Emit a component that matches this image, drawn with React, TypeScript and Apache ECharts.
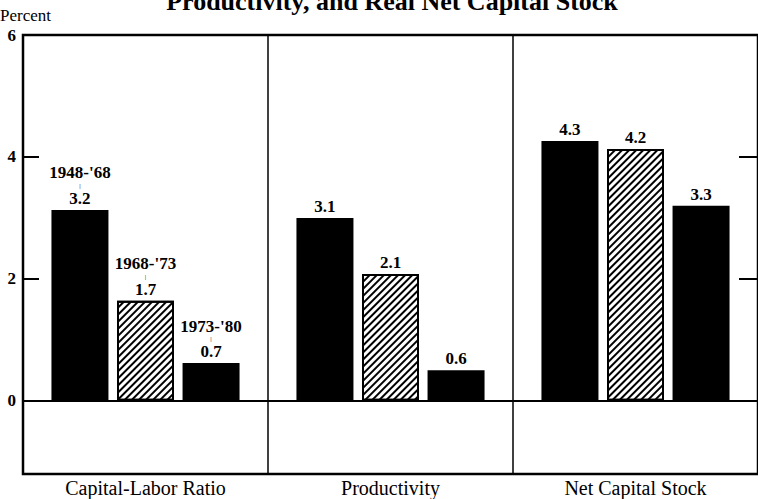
import React, { useEffect, useRef } from "react";
import * as echarts from "echarts";

const categories = ["Capital-Labor Ratio", "Productivity", "Net Capital Stock"];
const periods = ["1948-'68", "1968-'73", "1973-'80"];
// bar heights as drawn in the picture
const heights1948to68 = [3.13, 3.0, 4.26];
const heights1968to73 = [1.64, 2.08, 4.13];
const heights1973to80 = [0.62, 0.5, 3.2];
// values printed above the bars
const printed1948to68 = ["3.2", "3.1", "4.3"];
const printed1968to73 = ["1.7", "2.1", "4.2"];
const printed1973to80 = ["0.7", "0.6", "3.3"];
const yTickLabels = [0, 2, 4, 6];
const yInnerTicks = [2, 4];

const SERIF = "Liberation Serif, serif";

export default function App() {
  const ref = useRef<HTMLDivElement>(null);
  useEffect(() => {
    if (!ref.current) return;
    const chart = echarts.init(ref.current, undefined, { renderer: "svg" });
    const heights = [heights1948to68, heights1968to73, heights1973to80];
    const printed = [printed1948to68, printed1968to73, printed1973to80];
    const hatched = [false, true, false];

    const series: any[] = periods.map((period, i) => ({
      type: "bar",
      name: period,
      data: heights[i],
      barWidth: 57,
      barGap: "15%",
      itemStyle: hatched[i]
        ? {
            color: "#fff",
            borderColor: "#000",
            borderWidth: 2,
            decal: {
              symbol: "rect",
              color: "#000",
              dashArrayX: [1, 0],
              dashArrayY: [1.6, 2.6],
              rotation: -Math.PI / 4,
            },
          }
        : { color: "#000" },
      label: {
        show: true,
        position: "top",
        distance: 4,
        color: "#000",
        formatter: (p: any) =>
          p.dataIndex === 0
            ? `{p|${period}}\n{t||}\n{v|${printed[i][p.dataIndex]}}`
            : `{v|${printed[i][p.dataIndex]}}`,
        rich: {
          p: { fontFamily: SERIF, fontSize: 17, fontWeight: "bold", color: "#000", lineHeight: 16 },
          t: { fontFamily: SERIF, fontSize: 7, color: "#000", lineHeight: 10 },
          v: { fontFamily: SERIF, fontSize: 17, fontWeight: "bold", color: "#000", lineHeight: 15 },
        },
      },
      ...(i === 0
        ? {
            markLine: {
              silent: true,
              symbol: ["none", "none"],
              label: { show: false },
              lineStyle: { color: "#000", width: 2, type: "solid" },
              data: [{ yAxis: 0 }],
            },
          }
        : {}),
    }));

    chart.setOption({
      animation: false,
      backgroundColor: "#fff",
      grid: {
        left: 23,
        right: -6,
        top: 35,
        bottom: 25,
        show: true,
        borderColor: "#000",
        borderWidth: 2.5,
        backgroundColor: "transparent",
      },
      graphic: [
        {
          type: "text",
          x: 392,
          y: -12,
          style: {
            text: "Productivity, and Real Net Capital Stock",
            font: `bold 26px ${SERIF}`,
            fill: "#000",
            textAlign: "center",
            textVerticalAlign: "top",
          },
        },
        {
          type: "text",
          x: 0,
          y: 7,
          style: {
            text: "Percent",
            font: `17px ${SERIF}`,
            fill: "#000",
            textAlign: "left",
            textVerticalAlign: "top",
          },
        },
      ],
      xAxis: {
        type: "category",
        data: categories,
        axisLine: { show: false },
        axisTick: { show: false },
        axisLabel: {
          color: "#000",
          fontFamily: SERIF,
          fontSize: 20,
          margin: 4,
        },
        splitLine: { show: true, lineStyle: { color: "#000", width: 1.5 } },
      },
      yAxis: [
        {
          type: "value",
          min: -1.2,
          max: 6,
          axisLine: { show: false },
          splitLine: { show: false },
          axisTick: {
            show: true,
            inside: true,
            length: 16,
            customValues: yInnerTicks,
            lineStyle: { color: "#000", width: 2 },
          },
          axisLabel: {
            customValues: yTickLabels,
            color: "#000",
            fontFamily: SERIF,
            fontWeight: "bold",
            fontSize: 17,
            margin: 7,
          },
        },
        {
          type: "value",
          position: "right",
          min: -1.2,
          max: 6,
          axisLine: { show: false },
          splitLine: { show: false },
          axisTick: {
            show: true,
            inside: true,
            length: 19,
            customValues: yInnerTicks,
            lineStyle: { color: "#000", width: 2 },
          },
          axisLabel: { show: false },
        },
      ],
      series,
    });
    return () => chart.dispose();
  }, []);
  return (
    <div
      ref={ref}
      style={{ position: "fixed", left: 0, top: 0, width: 758, height: 499 }}
    />
  );
}
